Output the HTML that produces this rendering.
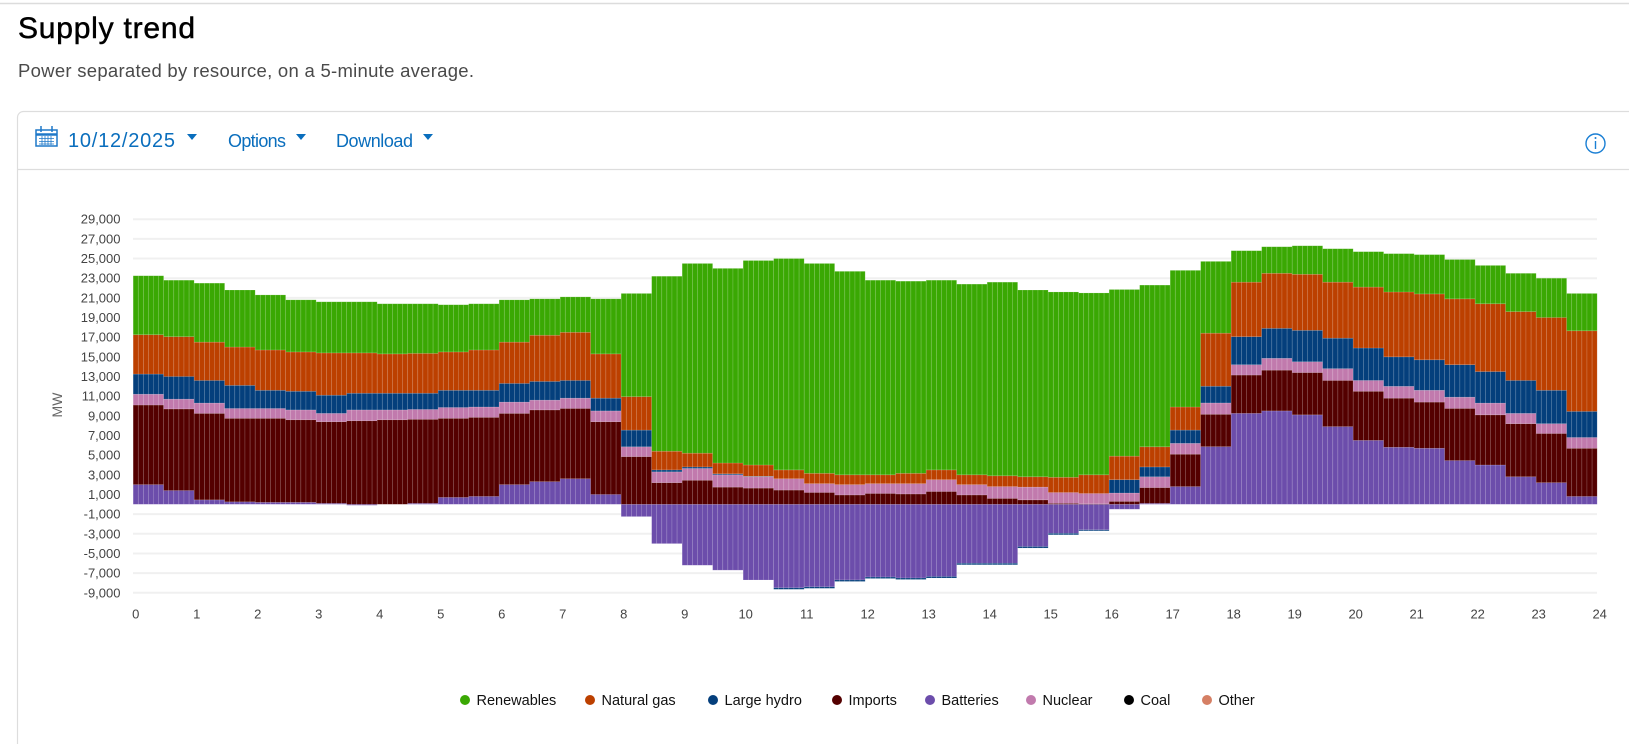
<!DOCTYPE html>
<html><head><meta charset="utf-8"><style>
html,body{margin:0;padding:0;background:#fff;width:1629px;height:744px;overflow:hidden}
svg{display:block;font-family:"Liberation Sans",sans-serif}
</style></head><body>
<svg id="page" width="1629" height="744" viewBox="0 0 1629 744" xmlns="http://www.w3.org/2000/svg">
  <line x1="0" y1="3.5" x2="1629" y2="3.5" stroke="#dcdcdc" stroke-width="1.5"/>
  <text x="18" y="38" font-size="30" fill="#000" stroke="#000" stroke-width="0.5" textLength="177">Supply trend</text>
  <text x="18" y="77" font-size="18.5" fill="#4a4a4a" textLength="456">Power separated by resource, on a 5-minute average.</text>
  <path d="M17.5 744 V117.5 a6 6 0 0 1 6 -6 H1629" fill="none" stroke="#dddddd" stroke-width="1.2"/>
  <line x1="18" y1="169.5" x2="1629" y2="169.5" stroke="#dddddd" stroke-width="1.2"/>
  <g>
    <g fill="none" stroke="#1f78c8" stroke-width="1.5">
      <rect x="36" y="130" width="21" height="16"/>
      <line x1="36" y1="134.5" x2="57" y2="134.5" stroke-width="2.5"/>
      <line x1="41" y1="126" x2="41" y2="132"/><line x1="52" y1="126" x2="52" y2="132"/>
      <path d="M39 138.5h15M39 141.5h15M39 144h15M42 136v9M45 136v9M48 136v9M51 136v9" stroke-width="0.8"/>
    </g>
    <text x="68" y="147" font-size="20" fill="#0a6ebd" textLength="107">10/12/2025</text>
    <path d="M187 134h10l-5 6z" fill="#0a6ebd"/>
  </g>
  <g>
    <text x="228" y="147" font-size="18" fill="#0a6ebd" textLength="58">Options</text>
    <path d="M296 134h10l-5 6z" fill="#0a6ebd"/>
  </g>
  <g>
    <text x="336" y="147" font-size="18" fill="#0a6ebd" textLength="77">Download</text>
    <path d="M423 134h10l-5 6z" fill="#0a6ebd"/>
  </g>
  <g>
    <circle cx="1595.5" cy="143.5" r="9.5" fill="none" stroke="#1a7fd4" stroke-width="1.4"/>
    <line x1="1595.5" y1="141" x2="1595.5" y2="149" stroke="#1a7fd4" stroke-width="1.4"/>
    <circle cx="1595.5" cy="138" r="1" fill="#1a7fd4"/>
  </g>
  <g id="grid"></g>
  <g id="yaxis"></g>
  <text x="0" y="0" transform="translate(62,405) rotate(-90)" text-anchor="middle" font-size="14" fill="#666">MW</text>
  <g id="bars"></g>
  <g id="xaxis"></g>
  <g id="legend"></g>
</svg>
<script>
// Half-hour bins (0:00 .. 23:30), values in thousand MW
const hours = [0,1,2,3,4,5,6,7,8,9,10,11,12,13,14,15,16,17,18,19,20,21,22,23,24];
const yTicks = [29000,27000,25000,23000,21000,19000,17000,15000,13000,11000,9000,7000,5000,3000,1000,-1000,-3000,-5000,-7000,-9000];
const batteries = [2.0,1.4,0.45,0.25,0.2,0.2,0.1,-0.1,0,0.1,0.7,0.8,2.0,2.3,2.6,1.0,-1.25,-4.0,-6.2,-6.7,-7.7,-8.5,-8.4,-7.7,-7.4,-7.5,-7.35,-6.0,-6.0,-4.3,-2.95,-2.6,-0.5,0.1,1.8,5.86,9.25,9.5,9.1,7.9,6.5,5.8,5.7,4.45,4.0,2.8,2.2,0.8];
const imports = [8.1,8.3,8.8,8.5,8.55,8.4,8.3,8.5,8.6,8.55,8.05,8.05,7.25,7.3,7.15,7.4,4.85,2.2,2.45,1.75,1.65,1.45,1.2,0.95,1.1,1.05,1.3,0.95,0.6,0.45,0.1,0.05,0.3,1.6,3.3,3.3,3.9,4.15,4.3,4.7,5.0,5.0,4.7,5.3,5.1,5.4,5.0,4.9];
const nuclear = [1.1,1.0,1.05,1.0,1.0,1.0,0.85,1.1,1.0,1.0,1.1,1.05,1.15,1.0,1.05,1.1,1.0,1.1,1.2,1.25,1.15,1.15,0.9,1.05,1.0,1.05,1.2,1.05,1.2,1.3,1.1,1.05,0.85,1.1,1.1,1.15,1.05,1.2,1.1,1.2,1.1,1.2,1.2,1.15,1.2,1.05,1.0,1.1];
const largeHydro = [2.05,2.3,2.3,2.35,1.85,1.9,1.85,1.7,1.7,1.65,1.75,1.7,1.9,1.9,1.8,1.3,1.7,0.2,0.15,0.1,0.05,-0.15,-0.15,-0.15,-0.15,-0.15,-0.15,-0.15,-0.15,-0.15,-0.15,-0.1,1.35,1.0,1.35,1.7,2.85,3.05,3.2,3.1,3.3,3.0,3.1,3.3,3.2,3.35,3.4,2.65];
const naturalGas = [4.0,4.05,3.9,3.9,4.1,4.0,4.3,4.1,4.0,4.05,3.9,4.1,4.2,4.7,4.9,4.5,3.4,1.9,1.4,1.1,1.15,0.9,1.05,1.0,0.9,1.05,1.0,1.0,1.1,1.05,1.55,1.9,2.4,2.05,2.35,5.4,5.55,5.6,5.7,5.7,6.2,6.6,6.7,6.7,6.9,7.0,7.4,8.2];
const renewables = [6.0,5.75,6.0,5.8,5.6,5.3,5.2,5.2,5.1,5.05,4.8,4.7,4.3,3.7,3.6,5.6,10.5,17.8,19.3,19.8,20.8,21.5,21.35,20.7,19.8,19.55,19.3,19.4,19.7,19.0,18.85,18.5,16.95,16.45,13.9,7.3,3.2,2.7,2.9,3.4,3.6,3.9,4.0,4.0,3.9,3.9,4.0,3.8];
const coal = new Array(48).fill(0);
const other = new Array(48).fill(0);
const seriesNames = ["Renewables","Natural gas","Large hydro","Imports","Batteries","Nuclear","Coal","Other"];
const seriesColors = ["#3aa803","#bc4000","#043f7c","#540000","#6c4dab","#c17aad","#000000","#d57f64"];

const NS = "http://www.w3.org/2000/svg";
const X0 = 135.7, PXH = 61.0, Y0 = 504.3, PXK = 9.83;
const xScale = h => X0 + h * PXH;
const yScale = mw => Y0 - (mw / 1000) * PXK;
const yK = k => Y0 - k * PXK;
function mk(tag, attrs, parent) { const e = document.createElementNS(NS, tag); for (const k in attrs) e.setAttribute(k, attrs[k]); parent.appendChild(e); return e; }

const grid = document.getElementById('grid'), yaxis = document.getElementById('yaxis');
yTicks.forEach(v => {
  const gl = mk('line', {x1:133, x2:1597, y1:yScale(v), y2:yScale(v), stroke:'#f0f0f0', 'stroke-width':2}, grid);
  
  
  const t = mk('text', {x:120.5, y:yScale(v)+4.5, 'text-anchor':'end', 'font-size':13, fill:'#444'}, yaxis);
  t.textContent = v.toLocaleString('en-US');
  
  
});
const xaxis = document.getElementById('xaxis');
hours.forEach(h => {
  const t = mk('text', {x:xScale(h), y:618.5, 'text-anchor':'middle', 'font-size':13, fill:'#444'}, xaxis);
  t.textContent = h;
  
  
});

const bars = document.getElementById('bars');
const BW = PXH / 12;
for (let i = 0; i < 288; i++) {
  const j = Math.floor(i / 6);
  const cx = xScale(i / 12);
  const xl = cx - BW / 2;
  let pos = 0, neg = 0;
  const layers = [
    [batteries[j], 4], [imports[j], 3], [nuclear[j], 5], [largeHydro[j], 2],
    [naturalGas[j], 1], [renewables[j], 0], [coal[j], 6], [other[j], 7]
  ];
  layers.forEach(([v, ci]) => {
    if (!v) return;
    let yTop, yBot;
    if (v > 0) { yTop = yK(pos + v); yBot = yK(pos); pos += v; }
    else { yTop = yK(neg); yBot = yK(neg + v); neg += v; }
    const r = mk('rect', {x:xl.toFixed(2), y:yTop.toFixed(2), width:BW.toFixed(2), height:Math.max(0.5, yBot - yTop).toFixed(2), fill:seriesColors[ci], stroke:'rgba(255,255,255,0.22)', 'stroke-width':0.6}, bars);
    
    
  });
}

const legend = document.getElementById('legend');
const legendDotX = [465,590,713,837,930,1031,1129,1207];
seriesNames.forEach((n, k) => {
  const g = mk('g', {}, legend);
  
  
  mk('circle', {cx:legendDotX[k], cy:700, r:5, fill:seriesColors[k]}, g);
  const t = mk('text', {x:legendDotX[k] + 11.5, y:705, 'font-size':14.5, fill:'#111'}, g);
  t.textContent = n;
});
</script>
</body></html>
